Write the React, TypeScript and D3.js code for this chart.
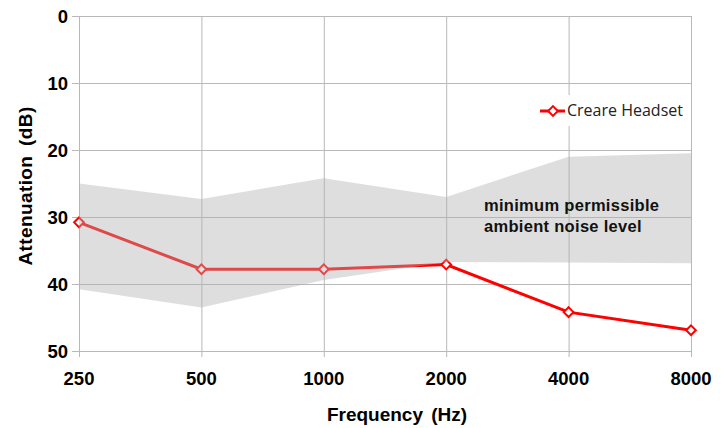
import React, { useEffect, useRef } from 'react';
import * as d3 from 'd3';

const frequencies = ['250', '500', '1000', '2000', '4000', '8000'];
const headset = [30.8, 37.8, 37.8, 37.1, 44.2, 46.9];
const bandTop = [25.0, 27.3, 24.2, 27.0, 21.0, 20.5];
const bandBottom = [40.8, 43.5, 39.4, 36.7, 36.8, 36.9];
const yTicks = [0, 10, 20, 30, 40, 50];

const App: React.FC = () => {
  const svgRef = useRef<SVGSVGElement>(null);

  useEffect(() => {
    if (!svgRef.current) return;
    const svg = d3.select(svgRef.current);
    svg.selectAll('*').remove();

    const font = '"Liberation Sans", Arial, sans-serif';
    const x = d3.scalePoint<string>().domain(frequencies).range([79, 691]);
    const y = d3.scaleLinear().domain([0, 50]).range([16, 351]);

    // gridlines
    const grid = svg.append('g').attr('stroke', '#b8b8b8').attr('stroke-width', 1);
    yTicks.forEach(t => {
      grid.append('line')
        .attr('x1', 72).attr('x2', 691)
        .attr('y1', y(t) + 0.5).attr('y2', y(t) + 0.5);
    });
    frequencies.forEach(f => {
      grid.append('line')
        .attr('x1', x(f)! + 0.5).attr('x2', x(f)! + 0.5)
        .attr('y1', 16).attr('y2', 357);
    });

    // headset line
    const line = d3.line<number>()
      .x((_, i) => x(frequencies[i])!)
      .y(d => y(d));
    svg.append('path')
      .datum(headset)
      .attr('d', line)
      .attr('fill', 'none')
      .attr('stroke', '#ff0000')
      .attr('stroke-width', 3);

    const diamond = d3.symbol().type(d3.symbolDiamond2).size(60);
    svg.append('g').selectAll('path')
      .data(headset)
      .join('path')
      .attr('d', diamond)
      .attr('transform', (d, i) => `translate(${x(frequencies[i])},${y(d)})`)
      .attr('fill', '#ffffff')
      .attr('stroke', '#ff0000')
      .attr('stroke-width', 2);

    // band
    const area = d3.area<number>()
      .x((_, i) => x(frequencies[i])!)
      .y0((_, i) => y(bandBottom[i]))
      .y1(d => y(d));
    svg.append('path')
      .datum(bandTop)
      .attr('d', area)
      .attr('fill', '#b0b0b0')
      .attr('fill-opacity', 0.42);

    // y ticks
    svg.append('g').selectAll('text')
      .data(yTicks)
      .join('text')
      .attr('x', 68)
      .attr('y', d => y(d))
      .attr('dy', '0.36em')
      .attr('text-anchor', 'end')
      .style('font', `bold 18.5px ${font}`)
      .attr('fill', '#000')
      .text(d => d);

    // x ticks
    svg.append('g').selectAll('text')
      .data(frequencies)
      .join('text')
      .attr('x', d => x(d)!)
      .attr('y', 385)
      .attr('text-anchor', 'middle')
      .style('font', `bold 18.5px ${font}`)
      .attr('fill', '#000')
      .text(d => d);

    svg.append('text')
      .attr('x', 397)
      .attr('y', 421)
      .attr('text-anchor', 'middle')
      .style('font', `bold 19px ${font}`)
      .style('word-spacing', '3px')
      .text('Frequency (Hz)');

    svg.append('text')
      .attr('transform', 'translate(32,186) rotate(-90)')
      .attr('text-anchor', 'middle')
      .style('font', `bold 19px ${font}`)
      .style('word-spacing', '4px')
      .style('letter-spacing', '0.4px')
      .text('Attenuation (dB)');

    // annotation
    const ann = svg.append('text')
      .style('font', `bold 16.5px ${font}`)
      .style('letter-spacing', '0.3px')
      .attr('fill', '#111');
    ann.append('tspan').attr('x', 484).attr('y', 211).text('minimum permissible');
    ann.append('tspan').attr('x', 484).attr('y', 232).text('ambient noise level');

    // legend
    const lg = svg.append('g');
    lg.append('rect')
      .attr('x', 536).attr('y', 95)
      .attr('width', 152).attr('height', 31)
      .attr('fill', '#fff');
    lg.append('line')
      .attr('x1', 540).attr('x2', 565)
      .attr('y1', 111).attr('y2', 111)
      .attr('stroke', '#ff0000').attr('stroke-width', 3);
    lg.append('path')
      .attr('d', diamond)
      .attr('transform', 'translate(553,111)')
      .attr('fill', '#fff')
      .attr('stroke', '#ff0000')
      .attr('stroke-width', 2);
    lg.append('text')
      .attr('x', 567).attr('y', 116)
      .style('font', `16px "Open Sans", ${font}`)
      .attr('fill', '#222')
      .text('Creare Headset');
  }, []);

  return (
    <svg
      ref={svgRef}
      width={724}
      height={428}
      style={{ position: 'absolute', left: 0, top: 0, display: 'block' }}
    />
  );
};

export default App;
